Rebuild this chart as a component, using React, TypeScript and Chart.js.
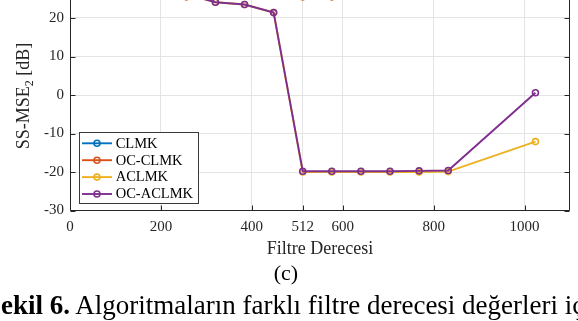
import React, { useEffect, useRef } from "react";
import { Chart, registerables } from "chart.js";

Chart.register(...registerables);

// Filter orders (x) and SS-MSE2 values in dB for each algorithm
const filterOrders = [64, 128, 192, 256, 320, 384, 448, 512, 576, 640, 704, 768, 832, 1024];
const clmk = [29.6, 29.0, 28.3, 27.8, 27.9, 28.1, 28.0, 27.6, 27.7, 27.9, 28.0, 28.1, 28.2, 28.4];
const ocClmk = [29.0, 28.1, 27.0, 25.5, 26.9, 27.4, 27.1, 25.5, 25.5, 27.2, 27.5, 27.6, 27.8, 28.0];
const aclmk = [29.3, 28.4, 27.3, 26.2, 24.1, 23.5, 21.4, -20.0, -20.0, -20.0, -20.0, -20.0, -19.9, -12.1];
const ocAclmk = [29.3, 28.4, 27.3, 26.2, 24.1, 23.5, 21.4, -19.8, -19.8, -19.8, -19.8, -19.7, -19.6, 0.6];

const seriesNames = ["CLMK", "OC-CLMK", "ACLMK", "OC-ACLMK"];
const seriesValues = [clmk, ocClmk, aclmk, ocAclmk];
const seriesColors = ["#0072BD", "#D95319", "#EDB120", "#7E2F8E"];

const xTicks = [0, 200, 400, 512, 600, 800, 1000];
const yTicks = [-30, -20, -10, 0, 10, 20, 30];

const SERIF = "'Liberation Serif', 'Times New Roman', serif";
const INK = "#262626";

// Box outline with inward tick marks on all four sides
const framePlugin = {
  id: "frame",
  afterDraw(chart: any) {
    const { ctx, chartArea: a, scales } = chart;
    const L = Math.round(a.left) + 0.5;
    const R = Math.round(a.right) - 0.5;
    const T = Math.round(a.top) + 0.5;
    const B = Math.round(a.bottom) - 0.5;
    ctx.save();
    ctx.strokeStyle = INK;
    ctx.lineWidth = 1;
    ctx.beginPath();
    ctx.moveTo(L, T);
    ctx.lineTo(L, B);
    ctx.lineTo(R, B);
    ctx.lineTo(R, T);
    ctx.lineTo(L, T);
    const len = 5;
    xTicks.forEach((v) => {
      const px = Math.round(scales.x.getPixelForValue(v)) + 0.5;
      ctx.moveTo(px, B);
      ctx.lineTo(px, B - len);
      ctx.moveTo(px, T);
      ctx.lineTo(px, T + len);
    });
    yTicks.forEach((v) => {
      const py = Math.round(scales.y.getPixelForValue(v)) + 0.5;
      ctx.moveTo(L, py);
      ctx.lineTo(L + len, py);
      ctx.moveTo(R, py);
      ctx.lineTo(R - len, py);
    });
    ctx.stroke();
    ctx.restore();
  },
};

// Legend box in the lower-left corner of the plot
const legendPlugin = {
  id: "legendBox",
  afterDraw(chart: any) {
    const { ctx } = chart;
    ctx.save();
    ctx.fillStyle = "#ffffff";
    ctx.fillRect(79.5, 162.5, 119, 71);
    ctx.strokeStyle = "#3a3a3a";
    ctx.lineWidth = 1;
    ctx.strokeRect(79.5, 162.5, 119, 71);
    seriesNames.forEach((name, i) => {
      const y = 173.3 + i * 16.9;
      ctx.strokeStyle = seriesColors[i];
      ctx.lineWidth = 1.9;
      ctx.beginPath();
      ctx.moveTo(82, y);
      ctx.lineTo(112, y);
      ctx.stroke();
      ctx.lineWidth = 1.6;
      ctx.beginPath();
      ctx.arc(97, y, 3, 0, Math.PI * 2);
      ctx.stroke();
      ctx.fillStyle = "#000000";
      ctx.font = `14.5px ${SERIF}`;
      ctx.textAlign = "left";
      ctx.textBaseline = "middle";
      ctx.fillText(name, 115.7, y + 0.5);
    });
    ctx.restore();
  },
};

// Rotated y-axis label with a subscript
const yLabelPlugin = {
  id: "yLabel",
  afterDraw(chart: any) {
    const { ctx } = chart;
    const main = "SS-MSE";
    const sub = "2";
    const tail = " [dB]";
    ctx.save();
    ctx.translate(28.5, 126);
    ctx.rotate(-Math.PI / 2);
    ctx.fillStyle = INK;
    ctx.textBaseline = "alphabetic";
    ctx.textAlign = "left";
    ctx.font = `18px ${SERIF}`;
    const w1 = ctx.measureText(main).width;
    const w3 = ctx.measureText(tail).width;
    ctx.font = `12px ${SERIF}`;
    const w2 = ctx.measureText(sub).width;
    const total = w1 + w2 + w3;
    let x = -total / 2;
    ctx.font = `18px ${SERIF}`;
    ctx.fillText(main, x, 0);
    x += w1;
    ctx.font = `12px ${SERIF}`;
    ctx.fillText(sub, x, 4);
    x += w2;
    ctx.font = `18px ${SERIF}`;
    ctx.fillText(tail, x, 0);
    ctx.restore();
  },
};

export default function App() {
  const ref = useRef<HTMLCanvasElement>(null);

  useEffect(() => {
    const canvas = ref.current;
    if (!canvas) return;
    const chart = new Chart(canvas, {
      type: "line",
      data: {
        datasets: seriesNames.map((name, i) => ({
          label: name,
          data: filterOrders.map((x, j) => ({ x, y: seriesValues[i][j] })),
          borderColor: seriesColors[i],
          backgroundColor: seriesColors[i],
          borderWidth: 1.9,
          pointRadius: 3,
          pointBorderWidth: 1.6,
          pointBackgroundColor: "rgba(0,0,0,0)",
          pointBorderColor: seriesColors[i],
          pointHoverRadius: 3,
          tension: 0,
          fill: false,
          order: 4 - i,
        })),
      },
      options: {
        responsive: false,
        animation: false,
        events: [],
        layout: { padding: { left: 0, right: 8, top: 9.5, bottom: 61.2 } },
        plugins: {
          legend: { display: false },
          tooltip: { enabled: false },
        },
        scales: {
          x: {
            type: "linear",
            min: 0,
            max: 1100,
            afterBuildTicks: (s: any) => {
              s.ticks = xTicks.map((v) => ({ value: v }));
            },
            afterFit: (s: any) => {
              s.height = 49.3;
              s.paddingLeft = 0;
              s.paddingRight = 0;
            },
            grid: { color: "#e4e4e4", lineWidth: 1, drawTicks: false },
            border: { display: false },
            ticks: {
              padding: 8,
              color: INK,
              font: { family: SERIF, size: 15 },
              maxRotation: 0,
              autoSkip: false,
              callback: (v: any) => String(v),
            },
            title: {
              display: true,
              text: "Filtre Derecesi",
              color: INK,
              font: { family: SERIF, size: 18 },
              padding: 0,
            },
          },
          y: {
            type: "linear",
            min: -30,
            max: 30,
            afterBuildTicks: (s: any) => {
              s.ticks = yTicks.map((v) => ({ value: v }));
            },
            afterFit: (s: any) => {
              s.width = 70;
              s.paddingTop = 0;
              s.paddingBottom = 0;
            },
            grid: { color: "#e4e4e4", lineWidth: 1, drawTicks: false },
            border: { display: false },
            ticks: {
              padding: 6,
              color: INK,
              font: { family: SERIF, size: 15 },
              callback: (v: any) => String(v),
            },
          },
        },
      },
      plugins: [framePlugin, legendPlugin, yLabelPlugin],
    } as any);
    return () => chart.destroy();
  }, []);

  return (
    <div
      style={{
        position: "fixed",
        top: 0,
        left: 0,
        width: 578,
        height: 321,
        overflow: "hidden",
        background: "#ffffff",
      }}
    >
      <canvas
        ref={ref}
        width={578}
        height={351}
        style={{ position: "absolute", top: -30, left: 0, width: 578, height: 351 }}
      />
      <div
        style={{
          position: "absolute",
          left: 236,
          top: 261.6,
          width: 100,
          textAlign: "center",
          fontFamily: SERIF,
          fontSize: 22,
          lineHeight: "22px",
          color: "#000",
        }}
      >
        (c)
      </div>
      <div
        style={{
          position: "absolute",
          left: -14,
          top: 292.4,
          whiteSpace: "nowrap",
          fontFamily: SERIF,
          fontSize: 27,
          lineHeight: "27px",
          color: "#000",
        }}
      >
        <b>Şekil 6.</b> Algoritmaların farklı filtre derecesi değerleri için
      </div>
    </div>
  );
}
